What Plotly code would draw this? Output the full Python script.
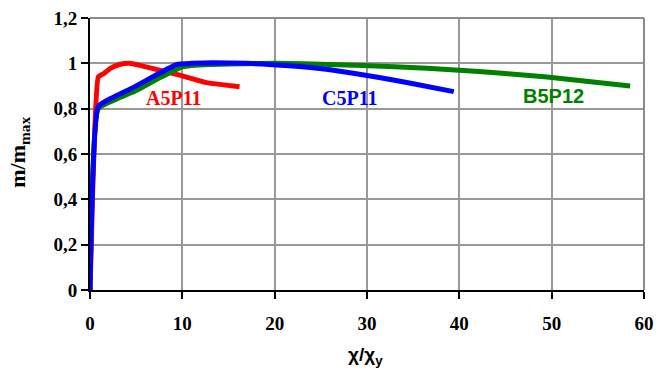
import plotly.graph_objects as go

# Normalised moment vs. normalised curvature for three specimens
a5p11_x = [0.0, 0.3, 0.9, 1.5, 2.2, 3.2, 4.3, 5.5, 7.5, 9.7, 12.6, 14.5, 16.2]
a5p11_y = [0.0, 0.45, 0.94, 0.955, 0.978, 0.995, 1.0, 0.99, 0.97, 0.948, 0.915, 0.905, 0.897]

b5p12_x = [0.0, 0.9, 3.0, 5.0, 7.5, 10.0, 13.0, 20.0, 26.0, 33.0, 40.0, 45.0, 49.5, 54.0, 58.5]
b5p12_y = [0.0, 0.80, 0.845, 0.88, 0.935, 0.985, 0.995, 1.0, 0.995, 0.985, 0.97, 0.955, 0.94, 0.92, 0.90]

c5p11_x = [0.0, 0.9, 2.5, 4.7, 7.0, 9.4, 11.0, 13.3, 17.0, 20.2, 23.0, 26.0, 31.0, 35.0, 39.4]
c5p11_y = [0.0, 0.81, 0.85, 0.894, 0.945, 0.995, 1.0, 1.003, 1.0, 0.993, 0.985, 0.972, 0.94, 0.91, 0.875]

x_ticks = [0, 10, 20, 30, 40, 50, 60]
y_ticks = [0, 0.2, 0.4, 0.6, 0.8, 1.0, 1.2]
y_tick_text = ["0", "0,2", "0,4", "0,6", "0,8", "1", "1,2"]

series = [
    ("A5P11", a5p11_x, a5p11_y, "#ff0000"),
    ("B5P12", b5p12_x, b5p12_y, "#008000"),
    ("C5P11", c5p11_x, c5p11_y, "#0000ff"),
]

serif = "Liberation Serif, Times New Roman, serif"
sans = "Liberation Sans, Arial, sans-serif"

fig = go.Figure()
for name, xs, ys, col in series:
    fig.add_trace(go.Scatter(x=xs, y=ys, mode="lines", name=name,
                             line=dict(color=col, width=5, shape="spline", smoothing=0.4),
                             showlegend=False))

# Curve labels
labels = [
    ("A5P11", 9.1, 0.848, "#ff0000", serif),
    ("C5P11", 28.2, 0.845, "#0000ff", serif),
    ("B5P12", 50.2, 0.857, "#008000", sans),
]
for txt, lx, ly, col, fam in labels:
    fig.add_annotation(x=lx, y=ly, text=f"<b>{txt}</b>", showarrow=False,
                       font=dict(color=col, size=20, family=fam))

# Gray frame on top and right
fig.add_shape(type="line", xref="paper", yref="paper", x0=0, x1=1, y0=1, y1=1,
              line=dict(color="#8c8c8c", width=2))
fig.add_shape(type="line", xref="paper", yref="paper", x0=1, x1=1, y0=0, y1=1,
              line=dict(color="#8c8c8c", width=2))

fig.update_layout(
    width=656, height=376,
    margin=dict(l=90, r=12, t=18, b=86, autoexpand=False),
    paper_bgcolor="white", plot_bgcolor="white",
    font=dict(family=serif, color="black"),
    xaxis=dict(range=[0, 60], tickvals=x_ticks, ticktext=[f"<b>{v}</b>" for v in x_ticks],
               tickfont=dict(size=19, family=serif), showgrid=True, gridcolor="#999999",
               gridwidth=2, showline=True, linecolor="black", linewidth=2, automargin=False,
               ticks="outside", ticklen=7, tickwidth=2, tickcolor="black", zeroline=False,
               ticklabelstandoff=8),
    yaxis=dict(range=[0, 1.2], tickvals=y_ticks, ticktext=[f"<b>{t}</b>" for t in y_tick_text],
               tickfont=dict(size=19, family=serif), showgrid=True, gridcolor="#999999",
               gridwidth=2, showline=True, linecolor="black", linewidth=2, automargin=False,
               ticks="outside", ticklen=7, tickwidth=2, tickcolor="black", zeroline=False),
)

# Axis titles
fig.add_annotation(xref="paper", yref="paper", x=-0.128, y=0.505, xanchor="center",
                   text="<b>m/m<sub>max</sub></b>", textangle=-90, showarrow=False,
                   font=dict(size=22, family=serif))
fig.add_annotation(xref="paper", yref="paper", x=0.497, y=-0.295, xanchor="center",
                   text="<b>χ/χ<sub>y</sub></b>", showarrow=False,
                   font=dict(size=19, family=sans))

fig.write_html("out.html")
